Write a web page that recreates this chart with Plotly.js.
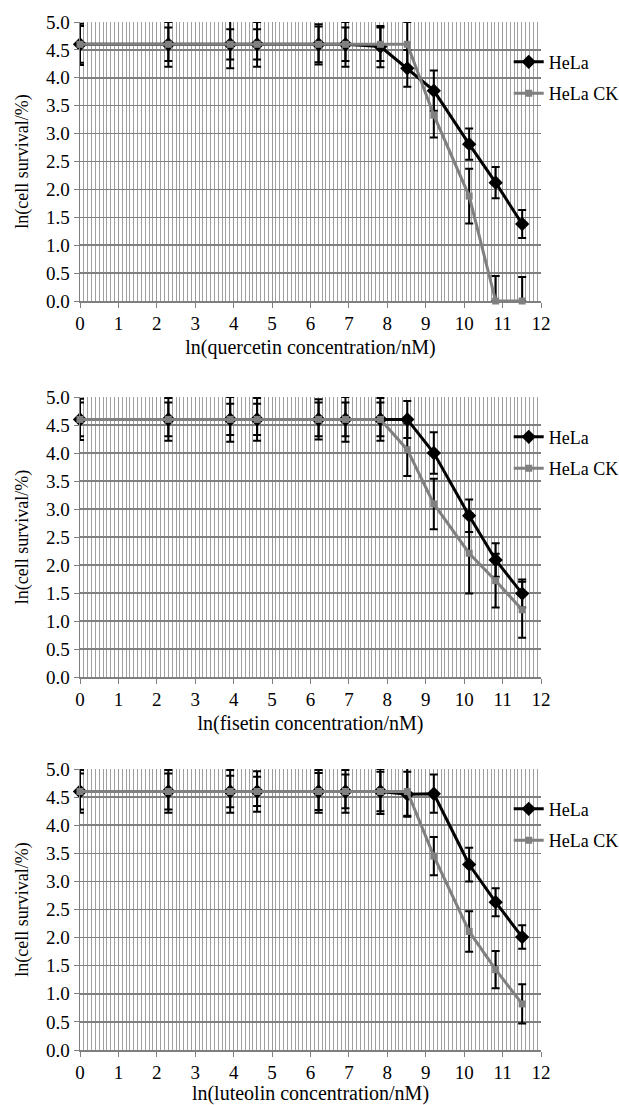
<!DOCTYPE html>
<html>
<head>
<meta charset="utf-8">
<script src="https://cdn.plot.ly/plotly-3.0.1.min.js"></script>
<style>
  html, body { margin: 0; padding: 0; background: #ffffff; }
  #chart { width: 619px; height: 1105px; }
</style>
</head>
<body>
<div id="chart"></div>
<script>
// ln(concentration / nM) for 1, 10, 50, 100, 500, 1000, 2500, 5000, 10000, 25000, 50000, 100000 nM
const lnConc = [0, 2.30, 3.91, 4.61, 6.21, 6.91, 7.82, 8.52, 9.21, 10.13, 10.82, 11.51];

// Panel 1: quercetin
const helaQ     = [4.60, 4.60, 4.60, 4.60, 4.60, 4.60, 4.56, 4.17, 3.77, 2.81, 2.12, 1.38];
const helaQErr  = [0.37, 0.40, 0.43, 0.40, 0.36, 0.40, 0.37, 0.33, 0.36, 0.28, 0.28, 0.25];
const ckQ       = [4.60, 4.60, 4.60, 4.60, 4.60, 4.60, 4.60, 4.60, 3.33, 1.88, 0.00, 0.00];
const ckQErrUp  = [0.33, 0.30, 0.27, 0.27, 0.32, 0.30, 0.30, 0.40, 0.40, 0.49, 0.45, 0.43];
const ckQErrDn  = [0.33, 0.30, 0.27, 0.27, 0.32, 0.30, 0.30, 0.40, 0.40, 0.49, 0.00, 0.00];

// Panel 2: fisetin
const helaF     = [4.60, 4.60, 4.60, 4.60, 4.60, 4.60, 4.60, 4.60, 4.00, 2.88, 2.09, 1.49];
const helaFErr  = [0.37, 0.38, 0.40, 0.38, 0.36, 0.40, 0.38, 0.33, 0.37, 0.29, 0.30, 0.25];
const ckF       = [4.60, 4.60, 4.60, 4.60, 4.60, 4.60, 4.60, 4.06, 3.09, 2.21, 1.72, 1.20];
const ckFErr    = [0.30, 0.30, 0.28, 0.28, 0.30, 0.30, 0.30, 0.47, 0.45, 0.72, 0.48, 0.50];

// Panel 3: luteolin
const helaL     = [4.60, 4.60, 4.60, 4.60, 4.60, 4.60, 4.60, 4.55, 4.56, 3.30, 2.63, 2.01];
const helaLErr  = [0.38, 0.38, 0.38, 0.36, 0.38, 0.38, 0.40, 0.40, 0.34, 0.30, 0.25, 0.21];
const ckL       = [4.60, 4.60, 4.60, 4.60, 4.60, 4.60, 4.60, 4.60, 3.45, 2.11, 1.43, 0.82];
const ckLErr    = [0.32, 0.32, 0.28, 0.26, 0.33, 0.30, 0.35, 0.43, 0.34, 0.36, 0.33, 0.35];

const seriesNames = ['HeLa', 'HeLa CK'];
const xTitles = ['ln(quercetin concentration/nM)', 'ln(fisetin concentration/nM)', 'ln(luteolin concentration/nM)'];
const yTitle = 'ln(cell survival/%)';

const FONT = '"Liberation Serif", "Times New Roman", serif';
const BLACK = '#000000';
const GREY = '#808080';

function helaTrace(y, err, idx) {
  return {
    type: 'scatter', mode: 'lines+markers', name: seriesNames[0],
    x: lnConc, y: y,
    xaxis: idx === 0 ? 'x' : 'x' + (idx + 1),
    yaxis: idx === 0 ? 'y' : 'y' + (idx + 1),
    legend: idx === 0 ? 'legend' : 'legend' + (idx + 1),
    legendgroup: 'a' + idx,
    line: { color: BLACK, width: 3 },
    marker: { symbol: 'diamond', size: 11, color: BLACK },
    error_y: { type: 'data', array: err, visible: true, color: BLACK, thickness: 2, width: 4 },
    cliponaxis: false
  };
}
function ckTrace(y, errUp, errDn, idx) {
  return {
    type: 'scatter', mode: 'lines+markers', name: seriesNames[1],
    x: lnConc, y: y,
    xaxis: idx === 0 ? 'x' : 'x' + (idx + 1),
    yaxis: idx === 0 ? 'y' : 'y' + (idx + 1),
    legend: idx === 0 ? 'legend' : 'legend' + (idx + 1),
    legendgroup: 'b' + idx,
    line: { color: GREY, width: 3 },
    marker: { symbol: 'square', size: 7, color: GREY },
    error_y: { type: 'data', symmetric: false, array: errUp, arrayminus: errDn, visible: true, color: BLACK, thickness: 2, width: 4 },
    cliponaxis: false
  };
}

const data = [
  helaTrace(helaQ, helaQErr, 0), ckTrace(ckQ, ckQErrUp, ckQErrDn, 0),
  helaTrace(helaF, helaFErr, 1), ckTrace(ckF, ckFErr, ckFErr, 1),
  helaTrace(helaL, helaLErr, 2), ckTrace(ckL, ckLErr, ckLErr, 2)
];

// plot area: x 80..541, panels y: 22..301, 397..677, 769..1050
const H = 1028, bottomPx = 1050;
function dom(topPx, botPx) { return [(bottomPx - botPx) / H, (bottomPx - topPx) / H]; }
const domains = [dom(22, 301), dom(397, 677), dom(769, 1050)];

function xAxis(i) {
  return {
    domain: [0, 1], anchor: i === 0 ? 'y' : 'y' + (i + 1),
    range: [0, 12], dtick: 1, tick0: 0,
    showgrid: true, gridcolor: '#999999', gridwidth: 1,
    minor: { dtick: 0.1, showgrid: true, gridcolor: '#a0a0a0', gridwidth: 1 },
    showline: true, linecolor: '#7f7f7f', linewidth: 1.5,
    ticks: 'outside', ticklen: 5, tickcolor: '#7f7f7f',
    zeroline: false, fixedrange: true, automargin: false,
    tickfont: { family: FONT, size: 19, color: '#000' },
    title: { text: xTitles[i], font: { family: FONT, size: 20, color: '#000' }, standoff: 6 }
  };
}
function yAxis(i) {
  return {
    domain: domains[i], anchor: i === 0 ? 'x' : 'x' + (i + 1),
    range: [0, 5], dtick: 0.5, tick0: 0, tickformat: '.1f',
    showgrid: true, gridcolor: '#808080', gridwidth: 1.5,
    showline: true, linecolor: '#7f7f7f', linewidth: 1.5,
    ticks: 'outside', ticklen: 5, tickcolor: '#7f7f7f',
    zeroline: false, fixedrange: true, automargin: false,
    tickfont: { family: FONT, size: 19, color: '#000' },
    title: { text: yTitle, font: { family: FONT, size: 18, color: '#000' }, standoff: 12 }
  };
}
function legendAt(i) {
  const d = domains[i];
  return {
    x: 0.93, xanchor: 'left', xref: 'paper',
    y: d[1] - 0.021, yanchor: 'top', yref: 'paper',
    bgcolor: 'rgba(255,255,255,0)', borderwidth: 0,
    font: { family: FONT, size: 18, color: '#000' },
    tracegroupgap: 5, itemwidth: 30
  };
}

const layout = {
  width: 619, height: 1105,
  margin: { l: 80, r: 78, t: 22, b: 55, autoexpand: false },
  paper_bgcolor: '#ffffff', plot_bgcolor: '#ffffff',
  font: { family: FONT },
  showlegend: true,
  xaxis: xAxis(0), yaxis: yAxis(0),
  xaxis2: xAxis(1), yaxis2: yAxis(1),
  xaxis3: xAxis(2), yaxis3: yAxis(2),
  legend: legendAt(0), legend2: legendAt(1), legend3: legendAt(2)
};

Plotly.newPlot('chart', data, layout, { staticPlot: true, displayModeBar: false });
</script>
</body>
</html>
